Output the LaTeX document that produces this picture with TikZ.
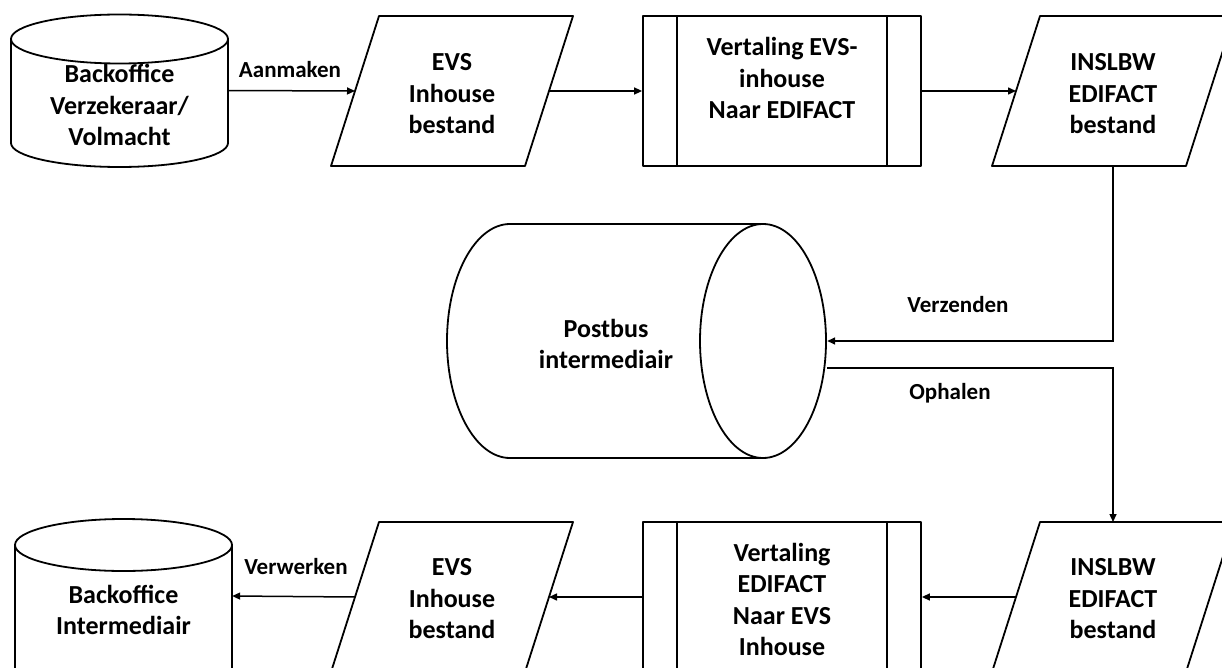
\documentclass[tikz,border=0pt]{standalone}
\usepackage{fontspec}
\setmainfont{Carlito}
\usetikzlibrary{arrows.meta,calc}
\tikzset{
  shp/.style={draw=black,line width=1.8pt,line join=round},
  procbox/.style={shp,rectangle,minimum width=278pt,minimum height=150pt,inner sep=0pt},
  ghost/.style={rectangle,inner sep=0pt},
  txt/.style={align=center,inner sep=0pt,font=\fontsize{26}{31.5}\selectfont\bfseries},
  lbl/.style={inner sep=0pt,font=\fontsize{23}{27}\selectfont\bfseries},
  conn/.style={line width=1.5pt,-{Triangle[length=8pt,width=7pt]}},
}
\begin{document}
\begin{tikzpicture}[x=1pt,y=-1pt]
\useasboundingbox (0,0) rectangle (1222,668);
\clip (0,0) rectangle (1222,668);
% ---------- top row ----------
% cylinder Backoffice Verzekeraar
\node[ghost,minimum width=217pt,minimum height=153pt] (bo1) at (119.5,90.5) {};
\draw[shp] (11,39) -- (11,143) arc[start angle=180,end angle=360,x radius=108.5pt,y radius=24pt] -- (228,39);
\draw[shp] (119.5,39) ellipse[x radius=108.5pt,y radius=24.5pt];
\node[txt] (bo1t) at (119.5,105) {Backoffice\\Verzekeraar/\\Volmacht};

% EVS parallelogram (top)
\draw[shp] (331,166) -- (379,16) -- (573,16) -- (525,166) -- cycle;
\node[txt] (evs1) at (452,94) {EVS\\Inhouse\\bestand};
\coordinate (evs1w) at (355,91);
\coordinate (evs1e) at (549,91);

% process box (top)
\node[procbox] (proc1) at (782,91) {};
\draw[shp] ([xshift=35pt]proc1.north west) -- ([xshift=35pt]proc1.south west);
\draw[shp] ([xshift=-35pt]proc1.north east) -- ([xshift=-35pt]proc1.south east);
\node[txt] (proc1t) at (782,78) {Vertaling EVS-\\inhouse\\Naar EDIFACT};

% INSLBW parallelogram (top)
\draw[shp] (992,166) -- (1040,16) -- (1234,16) -- (1186,166) -- cycle;
\node[txt] (ins1) at (1113,94) {INSLBW\\EDIFACT\\bestand};
\coordinate (ins1w) at (1016,91);
\coordinate (ins1s) at (1113,166);

% ---------- middle ----------
\node[ghost,minimum width=380pt,minimum height=234pt] (pb) at (637,341) {};
\draw[shp] (763,224) -- (510,224) arc[start angle=90,end angle=270,x radius=63pt,y radius=117pt] -- (763,458);
\draw[shp] (763,341) ellipse[x radius=63pt,y radius=117pt];
\node[txt] (pbt) at (606,344) {Postbus\\intermediair};

% ---------- bottom row ----------
\node[ghost,minimum width=217pt,minimum height=153pt] (bo2) at (123.5,596) {};
\draw[shp] (15,700) -- (15,545);
\draw[shp] (232,700) -- (232,545);
\draw[shp] (123.5,545) ellipse[x radius=108.5pt,y radius=26pt];
\node[txt] (bo2t) at (123.5,610) {Backoffice\\Intermediair};

% EVS parallelogram (bottom)
\draw[shp] (331,672) -- (379,522) -- (573,522) -- (525,672) -- cycle;
\node[txt] (evs2) at (452,599) {EVS\\Inhouse\\bestand};
\coordinate (evs2w) at (355,597);
\coordinate (evs2e) at (549,597);

% process box (bottom)
\node[procbox] (proc2) at (782,597) {};
\draw[shp] ([xshift=35pt]proc2.north west) -- ([xshift=35pt]proc2.south west);
\draw[shp] ([xshift=-35pt]proc2.north east) -- ([xshift=-35pt]proc2.south east);
\node[txt] (proc2t) at (782,599.5) {Vertaling\\EDIFACT\\Naar EVS\\Inhouse};

% INSLBW parallelogram (bottom)
\draw[shp] (992,672) -- (1040,522) -- (1234,522) -- (1186,672) -- cycle;
\node[txt] (ins2) at (1113,599) {INSLBW\\EDIFACT\\bestand};
\coordinate (ins2w) at (1016,597);
\coordinate (ins2n) at (1113,522);

% ---------- connectors ----------
\draw[conn] (bo1.east) -- (evs1w);
\draw[conn] (evs1e) -- (proc1.west);
\draw[conn] (proc1.east) -- (ins1w);
\draw[conn] (ins1s) |- (pb.east);
\draw[conn] ($(pb.east)+(0,27)$) -| (ins2n);
\draw[conn] (ins2w) -- (proc2.east);
\draw[conn] (proc2.west) -- (evs2e);
\draw[conn] (evs2w) -- (bo2.east);

% ---------- labels ----------
\node[lbl] (l1) at (290,70) {Aanmaken};
\node[lbl] (l2) at (958,305) {Verzenden};
\node[lbl] (l3) at (950,393) {Ophalen};
\node[lbl] (l4) at (296,567) {Verwerken};
\end{tikzpicture}
\end{document}
